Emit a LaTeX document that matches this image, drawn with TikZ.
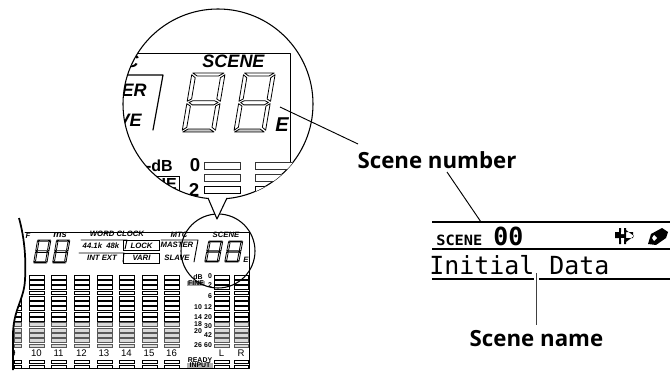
\documentclass[tikz,border=0pt]{standalone}
\usepackage{fontspec}
\setmainfont{Liberation Sans}
\newfontfamily\lblfont{Open Sans}
\newfontfamily\lcdfont{DejaVu Sans Mono}
\newcommand{\lcddigit}[6]{%
\begin{scope}[shift={(#1,#2)},x={(#3*.75pt,0pt)},y={(-#5*.75pt,-#4*.75pt)},segment/.style={draw=black,fill=white,line width=#6,line join=round}]
\draw[segment] (.12,0) -- (.9,0) -- (.78,.05) -- (.24,.05) -- cycle;
\draw[segment] (.1,.03) -- (.2,.08) -- (.2,.44) -- (.1,.48) -- cycle;
\draw[segment] (.93,.03) -- (.93,.48) -- (.83,.44) -- (.83,.08) -- cycle;
\draw[segment] (.15,.5) -- (.24,.47) -- (.78,.47) -- (.88,.5) -- (.78,.54) -- (.24,.54) -- cycle;
\draw[segment] (.1,.52) -- (.2,.56) -- (.2,.92) -- (.1,.97) -- cycle;
\draw[segment] (.93,.52) -- (.93,.97) -- (.83,.92) -- (.83,.56) -- cycle;
\draw[segment,fill=gray!45] (.12,1) -- (.9,1) -- (.78,.95) -- (.24,.95) -- cycle;
\end{scope}}
\tikzset{
 x=.75pt,y=-.75pt,
 panel/.style={line width=.7pt,line cap=round,line join=round},
 leader/.style={line width=.7pt},
 meter/.style={draw=black,fill=white,line width=.5pt},
 meterg/.style={draw=gray!70!black,fill=gray!30,line width=.6pt},
 tiny/.style={font=\bfseries\itshape\fontsize{5.8}{6}\selectfont,inner sep=0pt},
 sm/.style={font=\bfseries\fontsize{5.2}{6}\selectfont,inner sep=0pt},
 chan/.style={font=\fontsize{7.2}{8}\selectfont,inner sep=0pt},
 big/.style={font=\bfseries\itshape\fontsize{13.5}{14}\selectfont,inner sep=0pt},
 bigb/.style={font=\bfseries\fontsize{12}{13}\selectfont,inner sep=0pt},
 callout/.style={font=\lblfont\bfseries\fontsize{16.7}{18}\selectfont,inner sep=0pt},
 lcdtext/.style={font=\lcdfont\fontsize{18.7}{20}\selectfont,inner sep=0pt,anchor=base west},
 lcdbold/.style={font=\lcdfont\bfseries\fontsize{18.7}{20}\selectfont,inner sep=0pt,anchor=base west},
}
\begin{document}
\begin{tikzpicture}
\useasboundingbox (0,0) rectangle (672,378);
% ---- small panel
\draw[panel] (25,232) -- (249,232) -- (249,368) -- (13,368);
\foreach \cx/\cw in {14/7,29/15,51/15,74/15,97/15,119/15,142/15,164/15,214/15,234/14}{
  \foreach \r in {0,...,13}{
    \pgfmathtruncatemacro{\rr}{\r}
    \pgfmathsetmacro{\ry}{275+\r*5.3}
    \ifnum\rr>8
      \path[meterg] (\cx,\ry) rectangle ++(\cw,3.9);
    \else
      \path[meter] (\cx,\ry) rectangle ++(\cw,3.9);
    \fi
  }
  \path[meter] (\cx,360) rectangle ++(\cw,3);
  \path[meter] (\cx,365) rectangle ++(\cw,3);
}
\lcddigit{36}{240}{16}{23}{4}{.6pt}
\lcddigit{55}{240}{16}{23}{4}{.6pt}
\lcddigit{207}{241}{17}{21}{4}{.6pt}
\lcddigit{227}{241}{17}{21}{4}{.6pt}
\node[tiny] (fl) at (28,236) {F};
\node[tiny,font=\itshape\bfseries\fontsize{7}{8}\selectfont] (ms) at (60,235) {ms};
\node[tiny] (wc) at (117,234) {WORD CLOCK};
\node[tiny] (rate) at (101,246) {44.1k\ \ 48k};
\node[tiny] (intext) at (102,258) {INT EXT};
\draw[panel] (81,240) -- (127,240) -- (125,249);
\draw[panel] (79,253) -- (124,253) -- (123,262);
\node[tiny,draw,line width=.5pt,minimum width=27,minimum height=7.5pt,inner sep=0pt] (lock) at (141.5,245.5) {LOCK};
\node[tiny,draw,line width=.5pt,minimum width=27,minimum height=7.5pt,inner sep=0pt] (vari) at (141.5,258) {VARI};
\node[tiny] (mtc) at (179,235) {MTC};
\node[tiny] (master) at (177,245) {MASTER};
\node[tiny] (slave) at (177,258) {SLAVE};
\draw[panel] (161,240) -- (198,240) -- (194,262);
\node[tiny] (scenes) at (226,235) {SCENE};
\node[tiny] (es) at (246,260) {E};
\node[sm] (db) at (198,277) {dB};
\node[sm,fill=gray!70,minimum width=18pt*.75,inner xsep=1pt] (fine) at (196,283.5) {FINE};
\foreach \nm/\t/\px/\py in {s0/0/210/276,s2/2/210/285,s6/6/210/296,s10/10/198/307,s12/12/208/307,s14/14/198/317,s20/20/208/317,s18/18/198/324,s30/30/208/326,sb20/20/198/331,s42/42/208/335,s26/26/198/345,s60/60/208/345}{
  \node[sm] (\nm) at (\px,\py) {\t};
}
\foreach \nm/\t/\px in {c9/9/13,c10/10/36.5,c11/11/58.5,c12/12/81.5,c13/13/104,c14/14/126.5,c15/15/149,c16/16/171.5,cl/L/221.5,cr/R/241}{
  \node[chan] (\nm) at (\px,353) {\t};
}
\path[fill=gray!60] (187,362.5) rectangle (213,368);
\node[sm] (ready) at (200,360) {READY};
\node[sm] (input) at (200,365) {INPUT};
% white mask and torn left edge
\path[fill=white] (0,210) -- (19,218) .. controls (25,240) and (26,260) .. (25,280) .. controls (24,300) and (13,310) .. (13,335) -- (13,378) -- (0,378) -- cycle;
\draw[line width=1.3pt] (19,218) .. controls (25,240) and (26,260) .. (25,280) .. controls (24,300) and (13,310) .. (13,335) -- (13,370);
% small circle
\node[draw,circle,line width=.8pt,minimum size=55.5pt,inner sep=0pt] (lens) at (218,251) {};
% ---- big circle
\node[draw,circle,fill=white,line width=.8pt,minimum size=142.5pt,inner sep=0pt] (zoomc) at (218,104) {};
\begin{scope}
\clip (218,104) circle [radius=95];
\draw[panel] (110,53) -- (290,53) -- (290,210);
\draw[panel,line width=.9pt] (110,75) -- (163,75) -- (153,130);
\node[big] (bscene) at (233.5,61) {SCENE};
\node[big,anchor=east] (bc) at (139,61) {C};
\node[big,anchor=east] (ber) at (147,90) {ER};
\node[big,anchor=east] (bve) at (142,120) {VE};
\node[big,font=\bfseries\itshape\fontsize{15}{16}\selectfont] (be) at (282,125) {E};
\lcddigit{188}{73}{40}{59}{10}{.6pt}
\lcddigit{240}{73}{38}{59}{10}{.6pt}
\node[bigb,anchor=east] (bdb) at (173,166) {-dB};
\node[bigb,font=\bfseries\fontsize{14}{15}\selectfont] (b0) at (195,165.5) {0};
\node[bigb,font=\bfseries\fontsize{14}{15}\selectfont] (b2) at (194,190) {2};
\draw[line width=.7pt] (140,176) -- (179,176) -- (179,192);
\node[bigb,anchor=east] (bie) at (177,184) {IE};
\foreach \bx/\bw in {204/36,255/60}{
  \path[meterg,draw=gray!40!black,fill=white,line width=.7pt] (\bx,162) rectangle ++(\bw,7);
  \path[meterg,draw=gray!40!black,fill=white,line width=.7pt] (\bx,174) rectangle ++(\bw,7.5);
  \path[meter,line width=.7pt] (\bx,186) rectangle ++(\bw,7);
}
\end{scope}
% pointer wedge
\coordinate (wl) at (208,198);
\coordinate (wr) at (227,198);
\coordinate (wt) at (217,219);
\path[fill=white] (wl) -- (wt) -- (wr) -- cycle;
\draw[line width=.8pt,line join=round] (wl) -- (wt) -- (wr);
% ---- LCD
\coordinate (ltl) at (432,222); \coordinate (ltr) at (670,222);
\coordinate (lml) at (432,249); \coordinate (lmr) at (670,249);
\coordinate (lbl) at (432,279); \coordinate (lbr) at (670,279);
\coordinate (lg1) at (534,279); \coordinate (lg2) at (539,279);
\draw[line width=1.1pt] (ltl) -- (ltr);
\draw[line width=1.1pt] (lml) -- (lmr);
\draw[line width=1.1pt] (lbl) -- (lg1) (lg2) -- (lbr);
\node[inner sep=0pt,anchor=base west,font=\lcdfont\bfseries\fontsize{12.5}{13}\selectfont] (lscene) at (436,245) {\scalebox{.92}[.85]{SCENE}};
\node[lcdbold] (lnum) at (493,245) {00};
\node[lcdtext] (lname) at (429,274) {Initial Data};
% speaker-like icon
\path[fill=black] (615,232) rectangle (633,238) (619,228) rectangle (621,244) (624,228) rectangle (626,244) (626,230) -- (634,236) -- (626,242) -- cycle;
\path[fill=white] (621,232) rectangle (624,234) (621,238) rectangle (624,240);
% wrench-like icon
\path[fill=black] (648,244) -- (651,234) -- (662,228) -- (668,232) -- (666,238) -- (656,245) -- cycle;
\path[fill=white] (652,238) -- (654,235) -- (657,238) -- (654,241) -- cycle;
% ---- callouts
\node[callout] (snum) at (437,160) {Scene number};
\node[callout] (sname) at (536.5,339) {Scene name};
\coordinate (p1) at (280,107);
\coordinate (p2) at (358,144);
\coordinate (p3) at (447,172);
\coordinate (p4) at (481,222);
\coordinate (p5) at (536.5,273);
\coordinate (p6) at (536.5,325);
\draw[leader] (p1) -- (p2);
\draw[leader] (p3) -- (p4);
\draw[leader,draw=black!75] (p5) -- (p6);
\end{tikzpicture}
\end{document}
